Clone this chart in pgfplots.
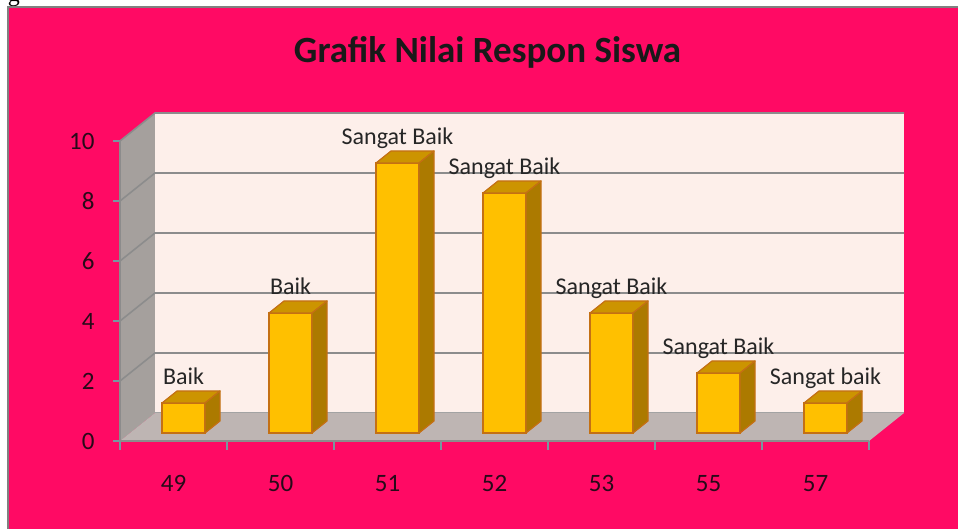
\documentclass[border=0pt]{standalone}
\usepackage{pgfplots}
\pgfplotsset{compat=1.18}
\usepackage{fontspec}
\setmainfont{Carlito}
\newfontfamily\seriffont{Liberation Serif}
\definecolor{magentabg}{RGB}{255,10,100}
\definecolor{backwall}{RGB}{253,239,234}
\definecolor{leftwall}{RGB}{165,160,157}
\definecolor{floorc}{RGB}{190,181,179}
\definecolor{gridc}{RGB}{140,140,140}
\definecolor{barfront}{RGB}{255,192,0}
\definecolor{bartop}{RGB}{204,148,0}
\definecolor{barside}{RGB}{172,122,0}
\definecolor{baredge}{RGB}{196,112,20}
\definecolor{txt}{RGB}{38,38,38}
\definecolor{ticktxt}{RGB}{40,10,25}
\definecolor{tickc}{RGB}{120,150,160}
\begin{document}
\begin{tikzpicture}[x=1pt,y=1pt]
\useasboundingbox (0,0) rectangle (958,529);
\fill[white] (0,0) rectangle (958,529);
\begin{scope}
\clip (0,522) rectangle (100,529);
\node[font=\seriffont\fontsize{24}{24}\selectfont, anchor=base, inner sep=0pt] at (14,527) {g};
\end{scope}
\fill[magentabg] (8,0) rectangle (958,522);
\draw[gray, line width=1.2] (8,0) -- (8,522) -- (958,522);
% walls and floor
\fill[leftwall] (120,88) -- (155,116) -- (155,416) -- (120,388) -- cycle;
\fill[floorc] (120,88) -- (869,88) -- (904,116) -- (155,116) -- cycle;
\fill[backwall] (155,116) rectangle (904,416);
\foreach \k in {2,4,6,8,10} {
  \draw[gridc, line width=1.6] (120,{88+30*\k}) -- (155,{116+30*\k}) -- (904,{116+30*\k});
}
\draw[gridc!80, line width=1] (155,116) -- (904,116);
\node[font=\bfseries\fontsize{37}{40}\selectfont, anchor=base, text=black!90] at (487.5,466) {Grafik Nilai Respon Siswa};
% front axis with ticks
\begin{axis}[at={(120pt,88pt)}, anchor=south west, x=107pt, y=30pt,
  xmin=-0.5, xmax=6.5, ymin=0, ymax=10,
  axis x line=bottom, axis y line=left,
  axis line style={gridc, line width=1.2pt, -},
  xtick={0,...,6}, xticklabels={49,50,51,52,53,55,57},
  minor xtick={-0.5,0.5,...,6.5},
  ytick={0,2,...,10},
  tick align=outside,
  major x tick style={draw=none},
  minor tick length=9pt, major tick length=7pt,
  every tick/.style={tickc, line width=1.2pt},
  minor tick style={tickc, line width=1.2pt},
  /pgf/number format/assume math mode=true,
  ticklabel style={font=\fontsize{25}{25}\selectfont, text=ticktxt},
  xticklabel style={anchor=base, yshift=-44pt},
  yticklabel style={anchor=east, xshift=-15pt},
  clip=false]
\end{axis}
% bars
\begin{axis}[at={(130pt,96pt)}, anchor=south west, x=107pt, y=30pt,
  xmin=-0.5, xmax=6.5, ymin=0, ymax=10, hide axis, clip=false]
\addplot[scatter, only marks, mark=*, mark size=0pt,
  visualization depends on={y \as \rawy},
  scatter/@pre marker code/.code={%
    \path[fill=bartop, draw=baredge, line width=1.2pt, line join=round] (-21.5pt,0pt) -- (21.5pt,0pt) -- (36.5pt,12pt) -- (-6.5pt,12pt) -- cycle;
    \path[fill=barside, draw=baredge, line width=1.2pt, line join=round] (21.5pt,0pt) -- (36.5pt,12pt) -- (36.5pt,{12pt-30pt*\rawy}) -- (21.5pt,{-30pt*\rawy}) -- cycle;
    \scope[opacity=0]%
  },
  scatter/@post marker code/.code={\endscope}]
coordinates {(0,1) (1,4) (2,9) (3,8) (4,4) (5,2) (6,1)};
\addplot[ybar, bar width=43pt, fill=barfront, draw=baredge, line width=1.2pt,
  point meta=explicit symbolic, nodes near coords,
  every node near coord/.append style={anchor=base, yshift=18pt, font=\fontsize{24}{24}\selectfont, text=txt}]
coordinates {(0,1) [Baik] (1,4) [Baik] (2,9) [Sangat Baik] (3,8) [Sangat Baik] (4,4) [Sangat Baik] (5,2) [Sangat Baik] (6,1) [Sangat baik]};
\end{axis}
\end{tikzpicture}
\end{document}
